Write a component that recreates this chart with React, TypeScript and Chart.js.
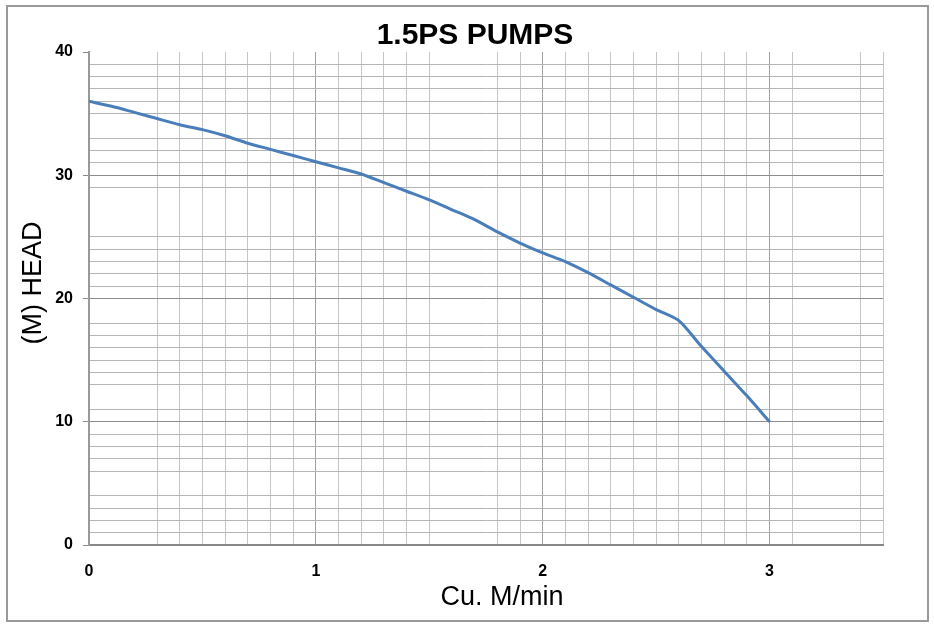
import React, { useEffect, useRef } from "react";
import { Chart, registerables } from "chart.js";

Chart.register(...registerables);

// Flow (Cu. M/min) and head (M)
const flowValues = [0, 0.1, 0.2, 0.3, 0.4, 0.5, 0.6, 0.7, 0.8, 0.9, 1.0, 1.1, 1.2, 1.3, 1.4, 1.5, 1.6, 1.7, 1.8, 1.9, 2.0, 2.1, 2.2, 2.3, 2.4, 2.5, 2.6, 2.7, 2.8, 2.9, 3.0];
const headValues = [36.0, 35.6, 35.1, 34.6, 34.1, 33.7, 33.2, 32.6, 32.1, 31.6, 31.1, 30.6, 30.1, 29.4, 28.7, 28.0, 27.2, 26.4, 25.4, 24.5, 23.7, 23.0, 22.1, 21.1, 20.1, 19.1, 18.2, 16.1, 14.1, 12.1, 10.0];

const xTickLabels = [0, 1, 2, 3];
const yTickLabels = [0, 10, 20, 30, 40];

const chartTitle = "1.5PS PUMPS";
const xAxisTitle = "Cu. M/min";
const yAxisTitle = "(M) HEAD";

// gridlines absent in the reference (x in tenths, y in units)
const missingXGrid = [1, 2, 16, 17, 32, 33];
const missingYGrid = [5, 12, 19, 26, 27, 28, 34, 40];

const FONT = "'Liberation Sans', Arial, Helvetica, sans-serif";

const titlesPlugin = {
  id: "pumpTitles",
  afterDraw(chart: any) {
    const ctx = chart.ctx;
    ctx.save();
    ctx.fillStyle = "#000";
    ctx.textAlign = "center";
    ctx.textBaseline = "middle";
    ctx.font = `bold 30px ${FONT}`;
    ctx.fillText(chartTitle, 475, 36);
    ctx.font = `27px ${FONT}`;
    ctx.fillText(xAxisTitle, 502, 598);
    ctx.translate(34, 283);
    ctx.rotate(-Math.PI / 2);
    ctx.font = `27px ${FONT}`;
    ctx.fillText(yAxisTitle, 0, 0);
    ctx.restore();
  },
};

export default function App() {
  const canvasRef = useRef<HTMLCanvasElement | null>(null);

  useEffect(() => {
    if (!canvasRef.current) return;
    const points = flowValues.map((x, i) => ({ x, y: headValues[i] }));
    const chart = new Chart(canvasRef.current, {
      type: "line",
      data: {
        datasets: [
          {
            label: "Head",
            data: points,
            borderColor: "#4a7ebb",
            backgroundColor: "#4a7ebb",
            borderWidth: 3,
            pointRadius: 0,
            tension: 0.25,
            fill: false,
          },
        ],
      },
      options: {
        responsive: false,
        animation: false,
        events: [],
        layout: { padding: { left: 49, right: 51, top: 52, bottom: 47 } },
        plugins: {
          legend: { display: false },
          title: { display: false },
          tooltip: { enabled: false },
        },
        scales: {
          x: {
            type: "linear",
            min: 0,
            max: 3.5,
            afterFit: (s: any) => {
              s.height = 36;
            },
            border: { color: "#888888", width: 2 },
            grid: {
              drawTicks: false,
              lineWidth: 1,
              color: (c: any) => {
                const t = Math.round(c.tick.value * 10);
                if (missingXGrid.includes(t)) return "rgba(0,0,0,0)";
                if (t % 10 === 0) return "#a0a0a0";
                return "#c6c6c6";
              },
            },
            ticks: {
              stepSize: 0.1,
              autoSkip: false,
              maxRotation: 0,
              padding: 17,
              color: "#000",
              font: { family: FONT, size: 16, weight: "bold" },
              callback: (v: any) => {
                const r = Math.round(Number(v) * 10);
                if (r % 10 !== 0) return "";
                return xTickLabels.includes(r / 10) ? String(r / 10) : "";
              },
            },
          },
          y: {
            type: "linear",
            min: 0,
            max: 40,
            afterFit: (s: any) => {
              s.width = 40;
            },
            border: { color: "#999999", width: 2 },
            grid: {
              drawTicks: true,
              tickLength: 6,
              lineWidth: 1,
              tickColor: (c: any) => (yTickLabels.includes(Math.round(c.tick.value)) ? "#888888" : "rgba(0,0,0,0)"),
              color: (c: any) => {
                const t = Math.round(c.tick.value);
                if (missingYGrid.includes(t)) return "rgba(0,0,0,0)";
                if (t % 10 === 0) return "#8c8c8c";
                return "#b4b4b4";
              },
            },
            ticks: {
              stepSize: 1,
              autoSkip: false,
              padding: 10,
              color: "#000",
              font: { family: FONT, size: 16, weight: "bold" },
              callback: (v: any) => {
                const r = Math.round(Number(v));
                return yTickLabels.includes(r) ? String(r) : "";
              },
            },
          },
        },
      },
      plugins: [titlesPlugin],
    });
    return () => chart.destroy();
  }, []);

  return (
    <div style={{ position: "absolute", left: 0, top: 0, width: 934, height: 628, background: "#fff" }}>
      <canvas ref={canvasRef} width={934} height={628} style={{ position: "absolute", left: 0, top: 0, width: 934, height: 628 }} />
      <div
        style={{
          position: "absolute",
          left: 6,
          top: 5,
          width: 923,
          height: 617,
          border: "2px solid #9a9a9a",
          boxSizing: "border-box",
          pointerEvents: "none",
        }}
      />
    </div>
  );
}
